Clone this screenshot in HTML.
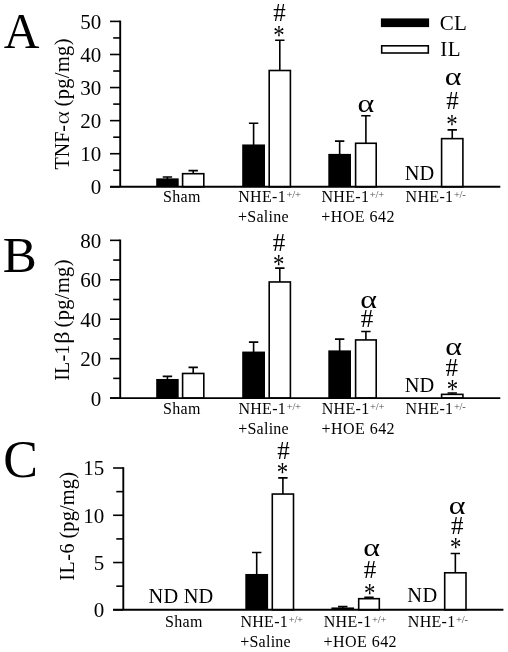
<!DOCTYPE html>
<html><head><meta charset="utf-8"><title>Figure</title>
<style>html,body{margin:0;padding:0;background:#fff}svg{display:block}</style>
</head><body>
<svg width="508" height="652" viewBox="0 0 508 652" font-family='"Liberation Serif", serif' fill="#000">
<rect width="508" height="652" fill="#fff"/>
<text transform="translate(3.7 47.7) scale(0.97 1)" font-size="51">A</text>
<path d="M110.00 186.80H120.20" stroke="#000" stroke-width="1.6"/>
<text x="101.30" y="194.20" font-size="21" text-anchor="end">0</text>
<path d="M110.00 153.72H120.20" stroke="#000" stroke-width="1.6"/>
<text x="101.30" y="161.12" font-size="21" text-anchor="end">10</text>
<path d="M110.00 120.64H120.20" stroke="#000" stroke-width="1.6"/>
<text x="101.30" y="128.04" font-size="21" text-anchor="end">20</text>
<path d="M110.00 87.56H120.20" stroke="#000" stroke-width="1.6"/>
<text x="101.30" y="94.96" font-size="21" text-anchor="end">30</text>
<path d="M110.00 54.48H120.20" stroke="#000" stroke-width="1.6"/>
<text x="101.30" y="61.88" font-size="21" text-anchor="end">40</text>
<path d="M110.00 21.40H120.20" stroke="#000" stroke-width="1.6"/>
<text x="101.30" y="28.80" font-size="21" text-anchor="end">50</text>
<path d="M113.20 170.26H120.20" stroke="#000" stroke-width="1.6"/>
<path d="M113.20 137.18H120.20" stroke="#000" stroke-width="1.6"/>
<path d="M113.20 104.10H120.20" stroke="#000" stroke-width="1.6"/>
<path d="M113.20 71.02H120.20" stroke="#000" stroke-width="1.6"/>
<path d="M113.20 37.94H120.20" stroke="#000" stroke-width="1.6"/>
<path d="M167.45 179.36V177.04M162.75 177.04H172.15" stroke="#000" stroke-width="1.6" fill="none"/>
<rect x="156.20" y="178.36" width="22.50" height="8.44" fill="#000"/>
<path d="M193.20 173.91V170.59M188.50 170.59H197.90" stroke="#000" stroke-width="1.6" fill="none"/>
<rect x="182.60" y="173.71" width="21.20" height="13.09" fill="#fff" stroke="#000" stroke-width="1.6"/>
<path d="M253.60 145.46V123.29M248.90 123.29H258.30" stroke="#000" stroke-width="1.6" fill="none"/>
<rect x="242.20" y="144.46" width="22.80" height="42.34" fill="#000"/>
<path d="M279.80 70.70V40.26M275.10 40.26H284.50" stroke="#000" stroke-width="1.6" fill="none"/>
<rect x="269.20" y="70.50" width="21.20" height="116.30" fill="#fff" stroke="#000" stroke-width="1.6"/>
<path d="M339.65 154.89V141.15M334.95 141.15H344.35" stroke="#000" stroke-width="1.6" fill="none"/>
<rect x="328.30" y="153.89" width="22.70" height="32.91" fill="#000"/>
<path d="M365.90 143.47V115.68M361.20 115.68H370.60" stroke="#000" stroke-width="1.6" fill="none"/>
<rect x="355.60" y="143.27" width="20.60" height="43.53" fill="#fff" stroke="#000" stroke-width="1.6"/>
<path d="M452.25 138.84V129.90M447.55 129.90H456.95" stroke="#000" stroke-width="1.6" fill="none"/>
<rect x="441.60" y="138.64" width="21.30" height="48.16" fill="#fff" stroke="#000" stroke-width="1.6"/>
<path d="M120.20 20.60V186.80" fill="none" stroke="#000" stroke-width="1.9"/>
<path d="M110.00 186.80H500.3" fill="none" stroke="#000" stroke-width="1.9"/>
<text x="279.60" y="20.70" font-size="25" text-anchor="middle">#</text>
<text transform="translate(278.90 43.61) scale(0.95 1.15)" font-size="24" text-anchor="middle">*</text>
<text transform="translate(365.94 111.70) scale(1.33 1.09)" font-size="24" text-anchor="middle">α</text>
<text transform="translate(453.03 85.30) scale(1.33 1.09)" font-size="24" text-anchor="middle">α</text>
<text x="452.60" y="109.20" font-size="25" text-anchor="middle">#</text>
<text transform="translate(452.00 132.51) scale(0.95 1.15)" font-size="24" text-anchor="middle">*</text>
<text x="404.70" y="180.40" font-size="20.4" letter-spacing="0.150">ND</text>
<rect x="380.9" y="18.4" width="48.2" height="8.7" fill="#000"/>
<rect x="381.7" y="45.8" width="46.6" height="7.200000000000001" fill="#fff" stroke="#000" stroke-width="1.6"/>
<text x="439.85" y="29.60" font-size="21" letter-spacing="0.250">CL</text>
<text x="440.25" y="56.20" font-size="21" letter-spacing="0.550">IL</text>
<text transform="translate(69.00 169.45) rotate(-90)" font-size="20">TNF-</text>
<text transform="translate(69.00 124.57) rotate(-90) scale(1.297 1)" font-size="20" stroke="#fff" stroke-width="0.25">α</text>
<text transform="translate(69.20 106.40) rotate(-90)" font-size="20.4" letter-spacing="0.358">(pg/mg)</text>
<text x="162.90" y="202.20" font-size="16" letter-spacing="0.383">Sham</text>
<text x="238.20" y="202.20" font-size="16" letter-spacing="0.312">NHE-1</text>
<text x="286.50" y="198.20" font-size="10.5" letter-spacing="-0.225" fill="#4a4a4a">+/+</text>
<text x="237.95" y="222.00" font-size="16" letter-spacing="0.258">+Saline</text>
<text x="321.50" y="202.20" font-size="16" letter-spacing="0.312">NHE-1</text>
<text x="369.80" y="198.20" font-size="10.5" letter-spacing="-0.225" fill="#4a4a4a">+/+</text>
<text x="321.25" y="222.00" font-size="16" letter-spacing="0.464">+HOE 642</text>
<text x="405.60" y="202.20" font-size="16" letter-spacing="0.312">NHE-1</text>
<text x="453.90" y="198.20" font-size="10.5" letter-spacing="-0.250" fill="#4a4a4a">+/-</text>
<text x="2.7" y="271.6" font-size="51">B</text>
<path d="M110.00 398.10H120.20" stroke="#000" stroke-width="1.6"/>
<text x="101.30" y="405.50" font-size="21" text-anchor="end">0</text>
<path d="M110.00 358.66H120.20" stroke="#000" stroke-width="1.6"/>
<text x="101.30" y="366.06" font-size="21" text-anchor="end">20</text>
<path d="M110.00 319.23H120.20" stroke="#000" stroke-width="1.6"/>
<text x="101.30" y="326.62" font-size="21" text-anchor="end">40</text>
<path d="M110.00 279.79H120.20" stroke="#000" stroke-width="1.6"/>
<text x="101.30" y="287.19" font-size="21" text-anchor="end">60</text>
<path d="M110.00 240.35H120.20" stroke="#000" stroke-width="1.6"/>
<text x="101.30" y="247.75" font-size="21" text-anchor="end">80</text>
<path d="M113.20 378.38H120.20" stroke="#000" stroke-width="1.6"/>
<path d="M113.20 338.94H120.20" stroke="#000" stroke-width="1.6"/>
<path d="M113.20 299.51H120.20" stroke="#000" stroke-width="1.6"/>
<path d="M113.20 260.07H120.20" stroke="#000" stroke-width="1.6"/>
<path d="M167.45 379.97V376.41M162.75 376.41H172.15" stroke="#000" stroke-width="1.6" fill="none"/>
<rect x="156.20" y="378.97" width="22.50" height="19.13" fill="#000"/>
<path d="M193.20 373.66V367.34M188.50 367.34H197.90" stroke="#000" stroke-width="1.6" fill="none"/>
<rect x="182.60" y="373.46" width="21.20" height="24.64" fill="#fff" stroke="#000" stroke-width="1.6"/>
<path d="M253.60 352.56V342.10M248.90 342.10H258.30" stroke="#000" stroke-width="1.6" fill="none"/>
<rect x="242.20" y="351.56" width="22.80" height="46.54" fill="#000"/>
<path d="M279.80 282.17V268.15M275.10 268.15H284.50" stroke="#000" stroke-width="1.6" fill="none"/>
<rect x="269.20" y="281.97" width="21.20" height="116.13" fill="#fff" stroke="#000" stroke-width="1.6"/>
<path d="M339.65 351.38V339.14M334.95 339.14H344.35" stroke="#000" stroke-width="1.6" fill="none"/>
<rect x="328.30" y="350.38" width="22.70" height="47.72" fill="#000"/>
<path d="M365.90 340.14V331.45M361.20 331.45H370.60" stroke="#000" stroke-width="1.6" fill="none"/>
<rect x="355.60" y="339.94" width="20.60" height="58.16" fill="#fff" stroke="#000" stroke-width="1.6"/>
<path d="M452.25 394.56V392.97M447.55 392.97H456.95" stroke="#000" stroke-width="1.6" fill="none"/>
<rect x="441.60" y="394.36" width="21.30" height="3.74" fill="#fff" stroke="#000" stroke-width="1.6"/>
<path d="M120.20 239.55V398.10" fill="none" stroke="#000" stroke-width="1.9"/>
<path d="M110.00 398.10H500.3" fill="none" stroke="#000" stroke-width="1.9"/>
<text x="279.10" y="250.70" font-size="25" text-anchor="middle">#</text>
<text transform="translate(278.80 272.81) scale(0.95 1.15)" font-size="24" text-anchor="middle">*</text>
<text transform="translate(368.63 307.69) scale(1.33 1.09)" font-size="24" text-anchor="middle">α</text>
<text x="367.00" y="327.30" font-size="25" text-anchor="middle">#</text>
<text transform="translate(453.73 354.89) scale(1.33 1.09)" font-size="24" text-anchor="middle">α</text>
<text x="451.70" y="376.40" font-size="25" text-anchor="middle">#</text>
<text transform="translate(452.50 397.91) scale(0.95 1.15)" font-size="24" text-anchor="middle">*</text>
<text x="404.70" y="391.90" font-size="20.4" letter-spacing="0.150">ND</text>
<text transform="translate(69.30 380.75) rotate(-90)" font-size="20" letter-spacing="0.167">IL-1</text>
<text transform="translate(69.30 343.82) rotate(-90) scale(1.212 1)" font-size="20">β</text>
<text transform="translate(69.30 327.40) rotate(-90)" font-size="20.4" letter-spacing="0.358">(pg/mg)</text>
<text x="162.90" y="414.00" font-size="16" letter-spacing="0.383">Sham</text>
<text x="238.40" y="414.00" font-size="16" letter-spacing="0.312">NHE-1</text>
<text x="286.70" y="410.00" font-size="10.5" letter-spacing="-0.225" fill="#4a4a4a">+/+</text>
<text x="238.15" y="433.80" font-size="16" letter-spacing="0.258">+Saline</text>
<text x="321.70" y="414.00" font-size="16" letter-spacing="0.312">NHE-1</text>
<text x="370.00" y="410.00" font-size="10.5" letter-spacing="-0.225" fill="#4a4a4a">+/+</text>
<text x="321.45" y="433.80" font-size="16" letter-spacing="0.464">+HOE 642</text>
<text x="405.60" y="414.00" font-size="16" letter-spacing="0.312">NHE-1</text>
<text x="453.90" y="410.00" font-size="10.5" letter-spacing="-0.250" fill="#4a4a4a">+/-</text>
<text x="3.3" y="477.3" font-size="52">C</text>
<path d="M113.10 609.80H123.30" stroke="#000" stroke-width="1.6"/>
<text x="104.20" y="617.20" font-size="21" text-anchor="end">0</text>
<path d="M113.10 562.53H123.30" stroke="#000" stroke-width="1.6"/>
<text x="104.20" y="569.93" font-size="21" text-anchor="end">5</text>
<path d="M113.10 515.27H123.30" stroke="#000" stroke-width="1.6"/>
<text x="104.20" y="522.67" font-size="21" text-anchor="end">10</text>
<path d="M113.10 468.00H123.30" stroke="#000" stroke-width="1.6"/>
<text x="104.20" y="475.40" font-size="21" text-anchor="end">15</text>
<path d="M116.30 586.17H123.30" stroke="#000" stroke-width="1.6"/>
<path d="M116.30 538.90H123.30" stroke="#000" stroke-width="1.6"/>
<path d="M116.30 491.63H123.30" stroke="#000" stroke-width="1.6"/>
<path d="M256.70 574.97V552.51M252.00 552.51H261.40" stroke="#000" stroke-width="1.6" fill="none"/>
<rect x="245.30" y="573.97" width="22.80" height="35.83" fill="#000"/>
<path d="M282.90 494.24V477.83M278.20 477.83H287.60" stroke="#000" stroke-width="1.6" fill="none"/>
<rect x="272.30" y="494.04" width="21.20" height="115.76" fill="#fff" stroke="#000" stroke-width="1.6"/>
<path d="M342.75 608.44V606.59M338.05 606.59H347.45" stroke="#000" stroke-width="1.6" fill="none"/>
<rect x="331.40" y="607.44" width="22.70" height="2.36" fill="#000"/>
<path d="M369.00 598.89V597.23M364.30 597.23H373.70" stroke="#000" stroke-width="1.6" fill="none"/>
<rect x="358.70" y="598.69" width="20.60" height="11.11" fill="#fff" stroke="#000" stroke-width="1.6"/>
<path d="M455.35 572.99V553.55M450.65 553.55H460.05" stroke="#000" stroke-width="1.6" fill="none"/>
<rect x="444.70" y="572.79" width="21.30" height="37.01" fill="#fff" stroke="#000" stroke-width="1.6"/>
<path d="M123.30 467.20V609.80" fill="none" stroke="#000" stroke-width="1.9"/>
<path d="M113.10 609.80H503.4" fill="none" stroke="#000" stroke-width="1.9"/>
<text x="283.60" y="458.50" font-size="25" text-anchor="middle">#</text>
<text transform="translate(282.50 480.71) scale(0.95 1.15)" font-size="24" text-anchor="middle">*</text>
<text transform="translate(371.53 556.10) scale(1.33 1.09)" font-size="24" text-anchor="middle">α</text>
<text x="370.00" y="578.10" font-size="25" text-anchor="middle">#</text>
<text transform="translate(369.80 601.51) scale(0.95 1.15)" font-size="24" text-anchor="middle">*</text>
<text transform="translate(457.03 513.50) scale(1.33 1.09)" font-size="24" text-anchor="middle">α</text>
<text x="457.20" y="534.00" font-size="25" text-anchor="middle">#</text>
<text transform="translate(455.60 556.11) scale(0.95 1.15)" font-size="24" text-anchor="middle">*</text>
<text x="148.60" y="602.60" font-size="20.4" letter-spacing="0.188">ND ND</text>
<text x="407.30" y="602.20" font-size="20.4" letter-spacing="0.550">ND</text>
<text transform="translate(73.60 580.65) rotate(-90)" font-size="20" letter-spacing="0.550">IL-6</text>
<text transform="translate(73.60 538.60) rotate(-90)" font-size="20.4" letter-spacing="0.142">(pg/mg)</text>
<text x="164.90" y="626.80" font-size="16" letter-spacing="0.383">Sham</text>
<text x="240.40" y="626.80" font-size="16" letter-spacing="0.312">NHE-1</text>
<text x="288.70" y="622.80" font-size="10.5" letter-spacing="-0.225" fill="#4a4a4a">+/+</text>
<text x="240.15" y="646.60" font-size="16" letter-spacing="0.258">+Saline</text>
<text x="323.70" y="626.80" font-size="16" letter-spacing="0.312">NHE-1</text>
<text x="372.00" y="622.80" font-size="10.5" letter-spacing="-0.225" fill="#4a4a4a">+/+</text>
<text x="323.45" y="646.60" font-size="16" letter-spacing="0.464">+HOE 642</text>
<text x="407.80" y="626.80" font-size="16" letter-spacing="0.312">NHE-1</text>
<text x="456.10" y="622.80" font-size="10.5" letter-spacing="-0.250" fill="#4a4a4a">+/-</text>
</svg>
</body></html>
